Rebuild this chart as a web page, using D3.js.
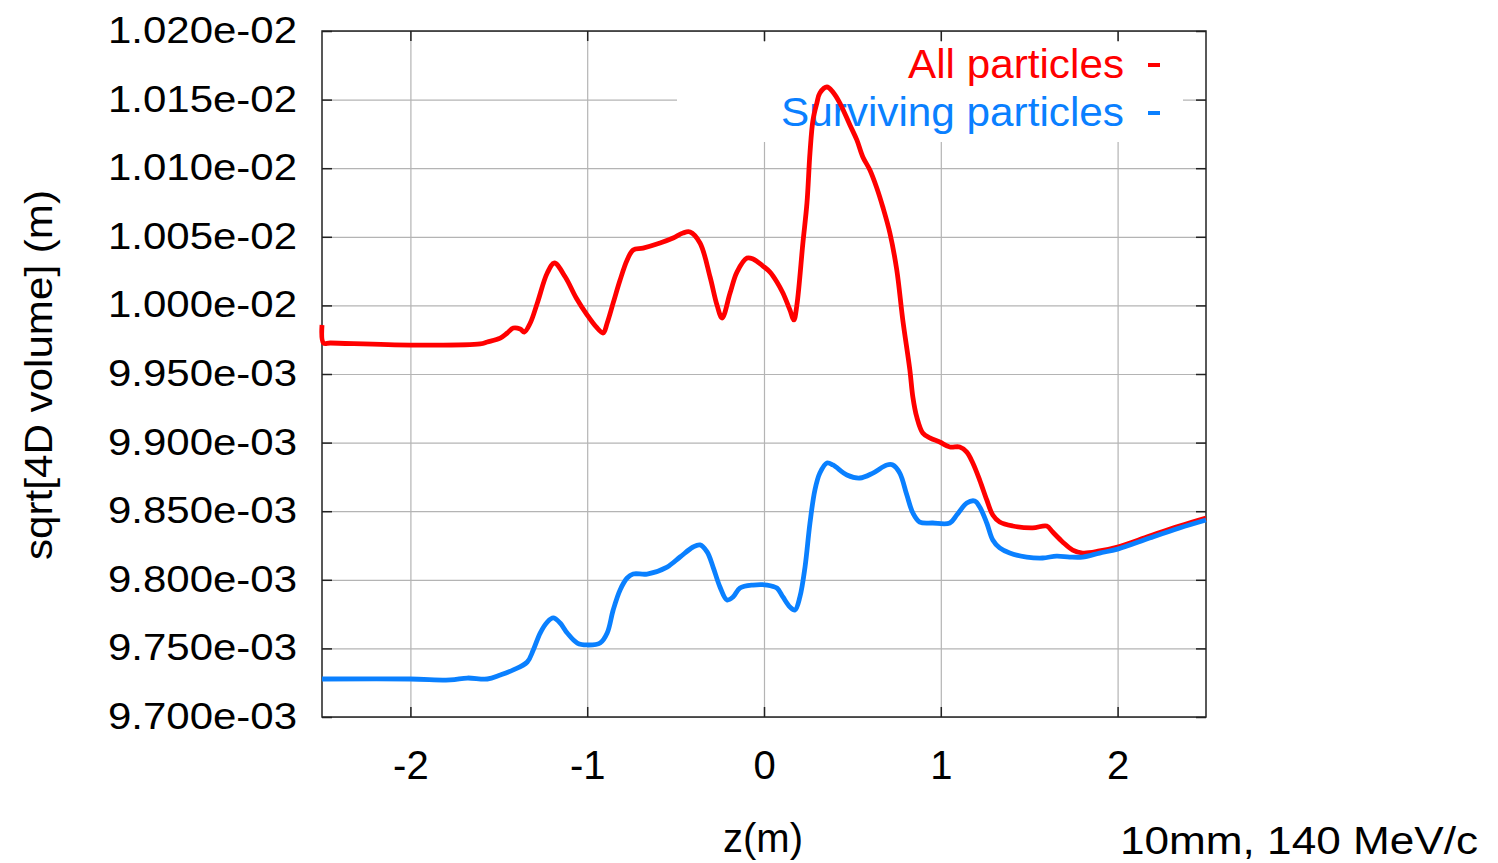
<!DOCTYPE html>
<html>
<head>
<meta charset="utf-8">
<script src="https://cdn.jsdelivr.net/npm/d3@7"></script>
<style>
  html, body { margin: 0; padding: 0; background: #fff; }
  svg { display: block; }
  text { font-family: "Liberation Sans", Arial, Helvetica, sans-serif; }
</style>
</head>
<body>
<svg id="chart" width="1498" height="863"></svg>
<script>
// ---- data (z in m, value in m) ----
const seriesNames = ["All particles", "Surviving particles"];
const seriesColors = ["#ff0000", "#0a80ff"];

const allZ = [-2.5, -2.4915, -2.452, -2.0, -1.605, -1.565, -1.492, -1.452, -1.418, -1.379, -1.356, -1.322, -1.282, -1.226, -1.186, -1.124, -1.062, -1.0, -0.949, -0.910, -0.887, -0.853, -0.814, -0.774, -0.740, -0.684, -0.588, -0.514, -0.458, -0.418, -0.362, -0.305, -0.266, -0.237, -0.192, -0.153, -0.096, -0.062, -0.006, 0.034, 0.073, 0.107, 0.147, 0.169, 0.186, 0.220, 0.243, 0.260, 0.277, 0.299, 0.316, 0.356, 0.390, 0.429, 0.486, 0.525, 0.559, 0.599, 0.638, 0.672, 0.712, 0.751, 0.785, 0.825, 0.842, 0.864, 0.898, 0.938, 0.994, 1.051, 1.107, 1.147, 1.181, 1.220, 1.260, 1.294, 1.333, 1.407, 1.520, 1.599, 1.633, 1.689, 1.746, 1.802, 1.898, 2.0, 2.181, 2.350, 2.5];
const allV = [9.9857e-3, 9.9726e-3, 9.9726e-3, 9.9711e-3, 9.9719e-3, 9.9733e-3, 9.9762e-3, 9.9799e-3, 9.9835e-3, 9.9828e-3, 9.9806e-3, 9.9872e-3, 10.0018e-3, 10.0236e-3, 10.0309e-3, 10.0207e-3, 10.0054e-3, 9.9930e-3, 9.9843e-3, 9.9799e-3, 9.9872e-3, 10.0018e-3, 10.0185e-3, 10.0331e-3, 10.0404e-3, 10.0418e-3, 10.0455e-3, 10.0491e-3, 10.0528e-3, 10.0535e-3, 10.0455e-3, 10.0207e-3, 10.0003e-3, 9.9908e-3, 10.0090e-3, 10.0243e-3, 10.0345e-3, 10.0338e-3, 10.0287e-3, 10.0243e-3, 10.0171e-3, 10.0090e-3, 9.9966e-3, 9.9894e-3, 10.0003e-3, 10.0455e-3, 10.0746e-3, 10.1111e-3, 10.1351e-3, 10.1475e-3, 10.1548e-3, 10.1592e-3, 10.1555e-3, 10.1475e-3, 10.1315e-3, 10.1206e-3, 10.1082e-3, 10.0987e-3, 10.0856e-3, 10.0717e-3, 10.0528e-3, 10.0258e-3, 9.9894e-3, 9.9529e-3, 9.9332e-3, 9.9187e-3, 9.9070e-3, 9.9034e-3, 9.9004e-3, 9.8968e-3, 9.8968e-3, 9.8931e-3, 9.8851e-3, 9.8727e-3, 9.8582e-3, 9.8472e-3, 9.8421e-3, 9.8392e-3, 9.8378e-3, 9.8392e-3, 9.8348e-3, 9.8276e-3, 9.8217e-3, 9.8195e-3, 9.8210e-3, 9.8239e-3, 9.8319e-3, 9.8392e-3, 9.8450e-3];

const survZ = [-2.5, -2.0, -1.774, -1.678, -1.565, -1.492, -1.418, -1.339, -1.305, -1.266, -1.226, -1.192, -1.153, -1.113, -1.056, -1.0, -0.927, -0.887, -0.853, -0.814, -0.774, -0.740, -0.661, -0.548, -0.475, -0.401, -0.362, -0.322, -0.288, -0.249, -0.209, -0.175, -0.136, -0.062, 0.017, 0.073, 0.107, 0.147, 0.175, 0.203, 0.232, 0.260, 0.288, 0.316, 0.356, 0.390, 0.469, 0.542, 0.616, 0.695, 0.729, 0.768, 0.808, 0.842, 0.881, 0.955, 1.051, 1.090, 1.147, 1.192, 1.220, 1.260, 1.294, 1.333, 1.390, 1.486, 1.576, 1.655, 1.729, 1.802, 1.898, 2.0, 2.181, 2.350, 2.5];
const survV = [9.7277e-3, 9.7277e-3, 9.7270e-3, 9.7284e-3, 9.7277e-3, 9.7306e-3, 9.7343e-3, 9.7401e-3, 9.7488e-3, 9.7612e-3, 9.7692e-3, 9.7722e-3, 9.7685e-3, 9.7612e-3, 9.7539e-3, 9.7525e-3, 9.7539e-3, 9.7612e-3, 9.7780e-3, 9.7926e-3, 9.8013e-3, 9.8042e-3, 9.8042e-3, 9.8093e-3, 9.8166e-3, 9.8239e-3, 9.8254e-3, 9.8203e-3, 9.8093e-3, 9.7948e-3, 9.7853e-3, 9.7875e-3, 9.7940e-3, 9.7962e-3, 9.7962e-3, 9.7940e-3, 9.7875e-3, 9.7802e-3, 9.7780e-3, 9.7875e-3, 9.8093e-3, 9.8414e-3, 9.8655e-3, 9.8778e-3, 9.8851e-3, 9.8837e-3, 9.8764e-3, 9.8742e-3, 9.8778e-3, 9.8837e-3, 9.8837e-3, 9.8778e-3, 9.8618e-3, 9.8487e-3, 9.8421e-3, 9.8414e-3, 9.8414e-3, 9.8472e-3, 9.8560e-3, 9.8574e-3, 9.8531e-3, 9.8414e-3, 9.8290e-3, 9.8232e-3, 9.8195e-3, 9.8166e-3, 9.8159e-3, 9.8173e-3, 9.8166e-3, 9.8166e-3, 9.8195e-3, 9.8224e-3, 9.8305e-3, 9.8378e-3, 9.8436e-3];

const xTicks = [-2, -1, 0, 1, 2];
const xTickLabels = ["-2", "-1", "0", "1", "2"];
const yTicks = [9.700e-3, 9.750e-3, 9.800e-3, 9.850e-3, 9.900e-3, 9.950e-3, 1.000e-2, 1.005e-2, 1.010e-2, 1.015e-2, 1.020e-2];
const yTickLabels = ["9.700e-03", "9.750e-03", "9.800e-03", "9.850e-03", "9.900e-03", "9.950e-03", "1.000e-02", "1.005e-02", "1.010e-02", "1.015e-02", "1.020e-02"];
const xTitle = "z(m)";
const yTitle = "sqrt[4D volume] (m)";
const note = "10mm, 140 MeV/c";

// ---- layout ----
const svg = d3.select("#chart");
const L = 322, R = 1206, T = 31, B = 717;
const x = d3.scaleLinear().domain([-2.5, 2.5]).range([L, R]);
const y = d3.scaleLinear().domain([9.7e-3, 10.2e-3]).range([B, T]);

// grid
const grid = svg.append("g");
grid.append("g").attr("transform", `translate(0,${B})`)
  .call(d3.axisBottom(x).tickValues(xTicks).tickSize(-(B - T)).tickFormat(""))
  .call(g => g.select(".domain").remove())
  .call(g => g.selectAll("line").attr("stroke", "#b4b4b4").attr("stroke-width", 1.2));
grid.append("g").attr("transform", `translate(${L},0)`)
  .call(d3.axisLeft(y).tickValues(yTicks).tickSize(-(R - L)).tickFormat(""))
  .call(g => g.select(".domain").remove())
  .call(g => g.selectAll("line").attr("stroke", "#b4b4b4").attr("stroke-width", 1.2));

// legend background box (covers grid)
svg.append("rect").attr("x", 677).attr("y", 42).attr("width", 1183 - 677).attr("height", 100).attr("fill", "#fff");

// legend text
const legendRows = [{t: seriesNames[0], c: seriesColors[0], base: 78, len: 216},
                    {t: seriesNames[1], c: seriesColors[1], base: 126, len: 343}];
legendRows.forEach(r => {
  svg.append("text").attr("x", 1124 - r.len).attr("y", r.base).attr("fill", r.c)
    .attr("font-size", 41).attr("textLength", r.len).attr("lengthAdjust", "spacingAndGlyphs").text(r.t);
  svg.append("line").attr("x1", 1148).attr("x2", 1160).attr("y1", r.base - 13).attr("y2", r.base - 13)
    .attr("stroke", r.c).attr("stroke-width", 4);
});

// axes: ticks inward on all sides
function styleAxis(g) {
  g.select(".domain").remove();
  g.selectAll(".tick line").attr("stroke", "#222").attr("stroke-width", 1.5);
}
svg.append("g").attr("transform", `translate(0,${B})`)
  .call(d3.axisBottom(x).tickValues(xTicks).tickFormat((d, i) => xTickLabels[i]).tickSizeInner(-10).tickSizeOuter(0).tickPadding(34))
  .call(styleAxis)
  .call(g => g.selectAll("text").attr("font-size", 40).attr("fill", "#000")
    .attr("font-family", "'Liberation Sans', Arial, sans-serif"));
svg.append("g").attr("transform", `translate(0,${T})`)
  .call(d3.axisTop(x).tickValues(xTicks).tickFormat("").tickSizeInner(-10).tickSizeOuter(0))
  .call(styleAxis);
svg.append("g").attr("transform", `translate(${L},0)`)
  .call(d3.axisLeft(y).tickValues(yTicks).tickFormat((d, i) => yTickLabels[i]).tickSizeInner(-10).tickSizeOuter(0).tickPadding(25))
  .call(styleAxis)
  .call(g => g.selectAll("text").attr("font-size", 36).attr("fill", "#000")
    .attr("font-family", "'Liberation Sans', Arial, sans-serif")
    .attr("textLength", 189).attr("lengthAdjust", "spacingAndGlyphs"));
svg.append("g").attr("transform", `translate(${R},0)`)
  .call(d3.axisRight(y).tickValues(yTicks).tickFormat("").tickSizeInner(-10).tickSizeOuter(0))
  .call(styleAxis);

// frame
svg.append("rect").attr("x", L).attr("y", T).attr("width", R - L).attr("height", B - T)
  .attr("fill", "none").attr("stroke", "#222").attr("stroke-width", 1.5);

// curves
const line = d3.line().x(d => x(d[0])).y(d => y(d[1])).curve(d3.curveCatmullRom.alpha(0.5));
const allData = allZ.map((z, i) => [z, allV[i]]);
const survData = survZ.map((z, i) => [z, survV[i]]);
svg.append("path").datum(allData).attr("d", line).attr("fill", "none")
  .attr("stroke", seriesColors[0]).attr("stroke-width", 4.8).attr("stroke-linejoin", "round");
svg.append("path").datum(survData).attr("d", line).attr("fill", "none")
  .attr("stroke", seriesColors[1]).attr("stroke-width", 4.8).attr("stroke-linejoin", "round");

// titles
svg.append("text").attr("x", 763).attr("y", 852).attr("text-anchor", "middle")
  .attr("font-size", 40).attr("fill", "#000").text(xTitle);
svg.append("text").attr("transform", "translate(52,375) rotate(-90)").attr("text-anchor", "middle")
  .attr("font-size", 38).attr("fill", "#000")
  .attr("textLength", 370).attr("lengthAdjust", "spacingAndGlyphs").text(yTitle);
svg.append("text").attr("x", 1120).attr("y", 854)
  .attr("font-size", 38).attr("fill", "#000")
  .attr("textLength", 358).attr("lengthAdjust", "spacingAndGlyphs").text(note);
</script>
</body>
</html>
